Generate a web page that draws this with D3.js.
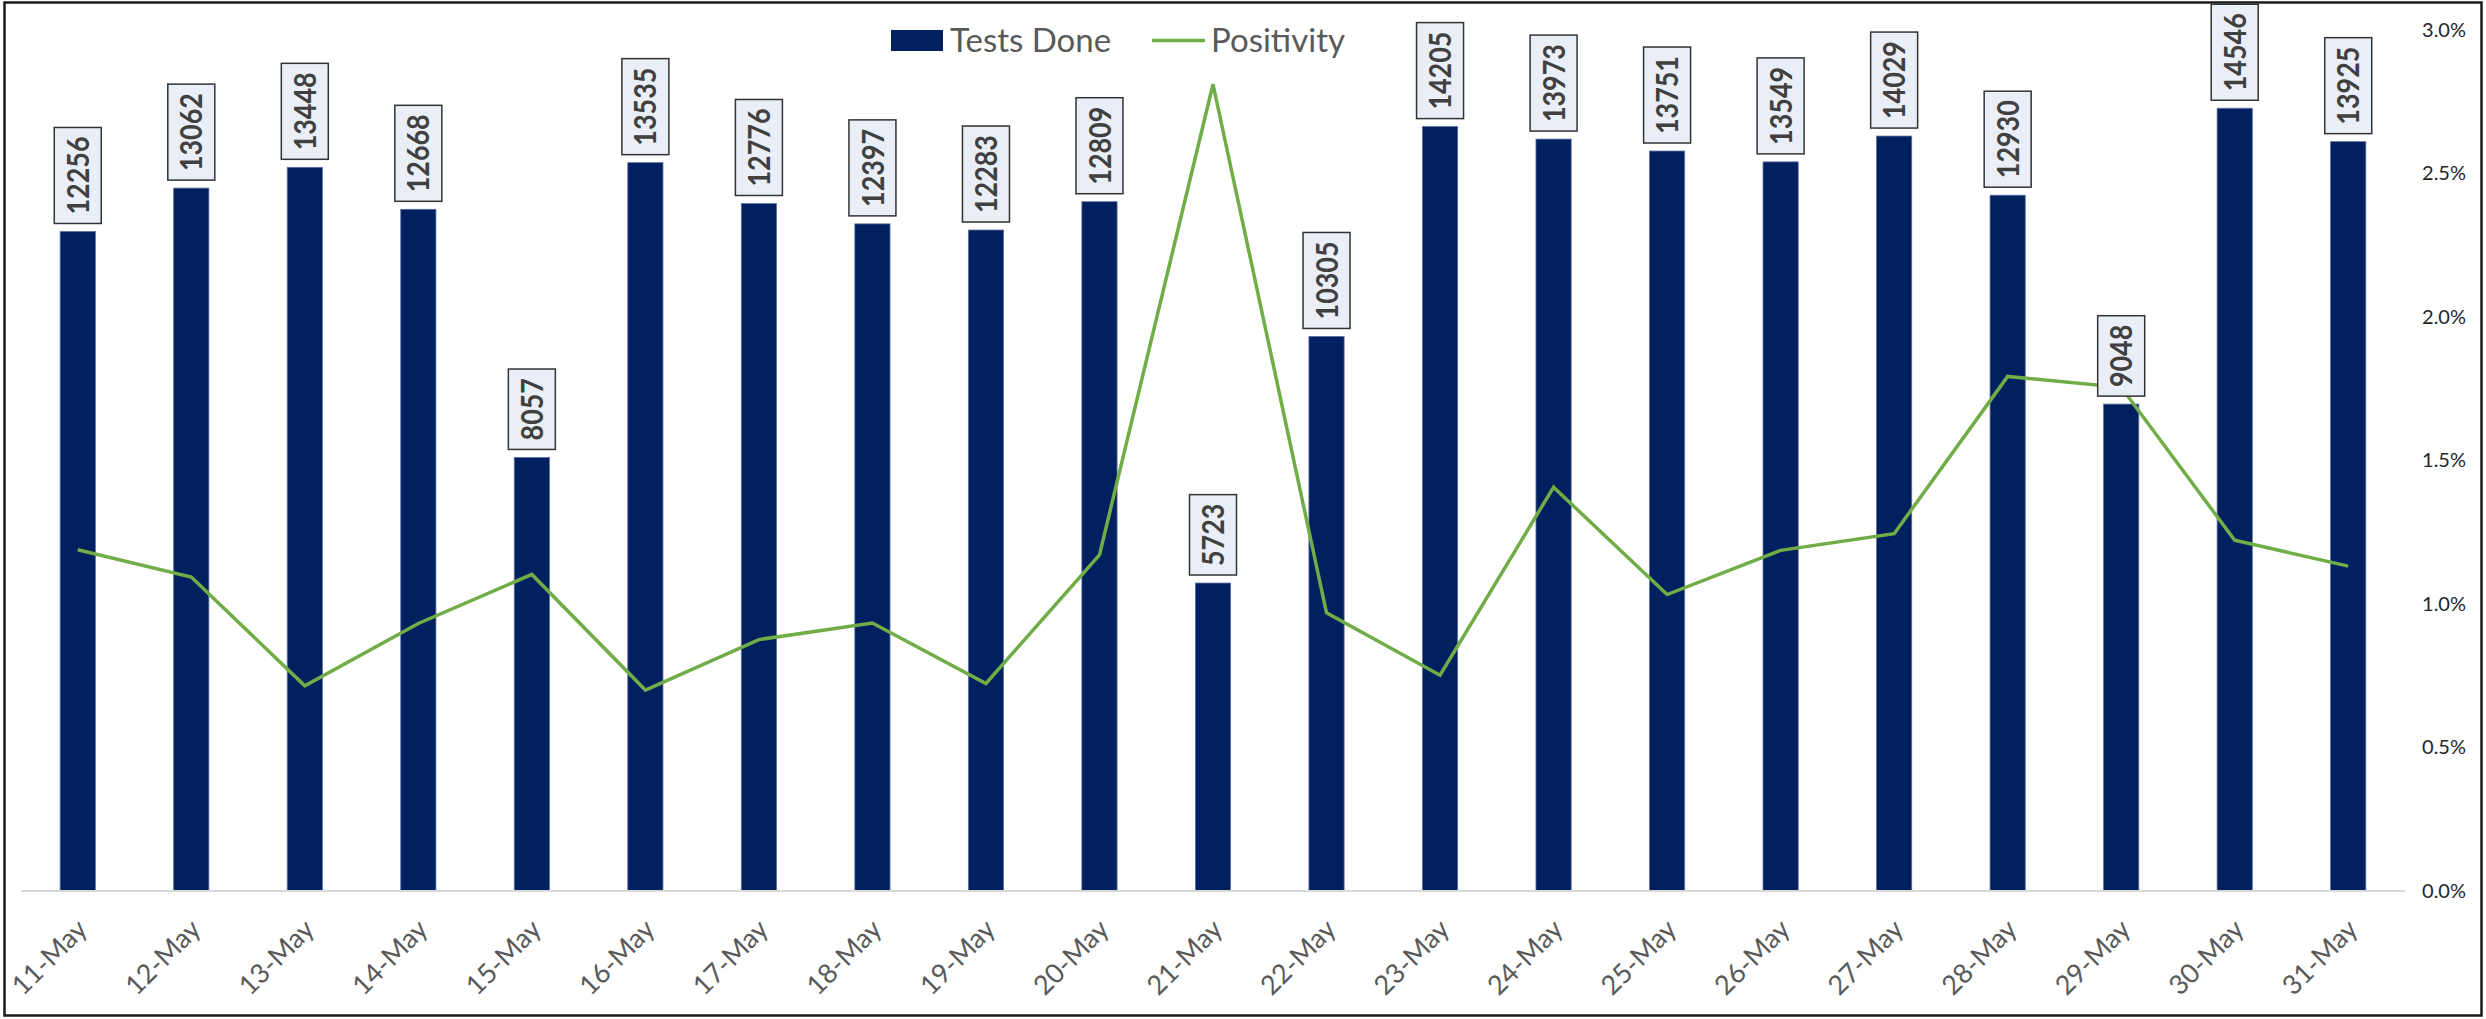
<!DOCTYPE html>
<html>
<head>
<meta charset="utf-8">
<script src="https://cdn.jsdelivr.net/npm/d3@7"></script>
<style>
  body { margin: 0; background: #fff; }
  svg { display: block; font-family: Lato, "Open Sans", sans-serif; }
</style>
</head>
<body>
<svg id="chart"></svg>
<script>
// data
const dates = ["11-May","12-May","13-May","14-May","15-May","16-May","17-May","18-May","19-May","20-May","21-May",
               "22-May","23-May","24-May","25-May","26-May","27-May","28-May","29-May","30-May","31-May"];
const testsDone = [12256,13062,13448,12668,8057,13535,12776,12397,12283,12809,5723,
                   10305,14205,13973,13751,13549,14029,12930,9048,14546,13925];
const positivity = [1.189,1.094,0.715,0.932,1.103,0.700,0.876,0.934,0.723,1.171,2.811,
                    0.969,0.752,1.407,1.033,1.187,1.245,1.793,1.755,1.222,1.132];
const pctTicks = [0,0.5,1.0,1.5,2.0,2.5,3.0];
const legendItems = ["Tests Done","Positivity"];

const width = 2486, height = 1019;
const plotLeft = 21, plotRight = 2405, plotTop = 30, plotBottom = 891;
const barColor = "#002060", lineColor = "#70ad47";

const svg = d3.select("#chart")
    .attr("width", width)
    .attr("height", height);

// outer frame
svg.append("rect")
    .attr("x", 4.5).attr("y", 2.5)
    .attr("width", 2477).attr("height", 1013)
    .attr("fill", "#fff")
    .attr("stroke", "#1a1a1a")
    .attr("stroke-width", 2.5);

const x = d3.scaleBand()
    .domain(dates)
    .range([plotLeft, plotRight])
    .paddingInner(0.69)
    .paddingOuter(0.345);
const yBar = d3.scaleLinear().domain([0, 16000]).range([plotBottom, plotTop]);
const yPct = d3.scaleLinear().domain([0, 3]).range([plotBottom, plotTop]);

//柱子
svg.append("g")
    .selectAll("rect")
    .data(testsDone)
    .join("rect")
    .attr("x", (d, i) => x(dates[i]))
    .attr("y", d => yBar(d))
    .attr("width", x.bandwidth())
    .attr("height", d => plotBottom - yBar(d))
    .attr("fill", barColor)
    .attr("stroke", "#5c6f9e")
    .attr("stroke-width", 0.8);

// x axis line
svg.append("line")
    .attr("x1", plotLeft).attr("x2", plotRight)
    .attr("y1", plotBottom).attr("y2", plotBottom)
    .attr("stroke", "#d9d9d9")
    .attr("stroke-width", 2);

// right percent axis
const rightAxis = svg.append("g")
    .attr("transform", `translate(2466, 0)`)
    .call(d3.axisRight(yPct).tickValues(pctTicks).tickSize(0).tickPadding(0)
        .tickFormat(d => d.toFixed(1) + "%"));
rightAxis.select(".domain").remove();
rightAxis.selectAll(".tick text")
    .attr("text-anchor", "end")
    .attr("font-family", "Lato, sans-serif")
    .attr("font-size", "20px")
    .attr("fill", "#262626");

// x labels
svg.append("g")
    .selectAll("text")
    .data(dates)
    .join("text")
    .attr("transform", d => `translate(${x(d) + x.bandwidth() / 2 + 11}, 931) rotate(-45)`)
    .attr("text-anchor", "end")
    .attr("font-size", "27px")
    .attr("fill", "#595959")
    .text(d => d);

// positivity line
const line = d3.line()
    .x((d, i) => x(dates[i]) + x.bandwidth() / 2)
    .y(d => yPct(d));
svg.append("path")
    .datum(positivity)
    .attr("d", line)
    .attr("fill", "none")
    .attr("stroke", lineColor)
    .attr("stroke-width", 3.5)
    .attr("stroke-linejoin", "miter");

// value labels in boxes (narrowed glyphs, closer to Calibri)
const pad = 9, digitW = 15.6;
const labels = svg.append("g")
    .selectAll("g")
    .data(testsDone)
    .join("g")
    .attr("transform", (d, i) => `translate(${x(dates[i]) + x.bandwidth() / 2}, ${yBar(d) - 8})`);
labels.each(function(d) {
    const g = d3.select(this);
    const len = String(d).length * digitW;
    g.append("rect")
        .attr("x", -23.5)
        .attr("y", -(len + 2 * pad))
        .attr("width", 47)
        .attr("height", len + 2 * pad)
        .attr("fill", "#e9eef7")
        .attr("stroke", "#333")
        .attr("stroke-width", 1.5);
    g.append("text")
        .attr("transform", "rotate(-90)")
        .attr("x", pad)
        .attr("dy", "0.37em")
        .attr("font-size", "30px")
        .attr("font-weight", "bold")
        .attr("fill", "#404040")
        .attr("textLength", len)
        .attr("lengthAdjust", "spacingAndGlyphs")
        .text(d);
});

// legend
const legend = svg.append("g").attr("font-size", "33px").attr("fill", "#595959");
legend.append("rect")
    .attr("x", 891).attr("y", 30)
    .attr("width", 52).attr("height", 21)
    .attr("fill", barColor);
legend.append("text").attr("x", 950).attr("y", 52).text(legendItems[0]);
legend.append("line")
    .attr("x1", 1152).attr("x2", 1205)
    .attr("y1", 40.5).attr("y2", 40.5)
    .attr("stroke", lineColor)
    .attr("stroke-width", 3.5);
legend.append("text").attr("x", 1211).attr("y", 52).text(legendItems[1]);
</script>
</body>
</html>
